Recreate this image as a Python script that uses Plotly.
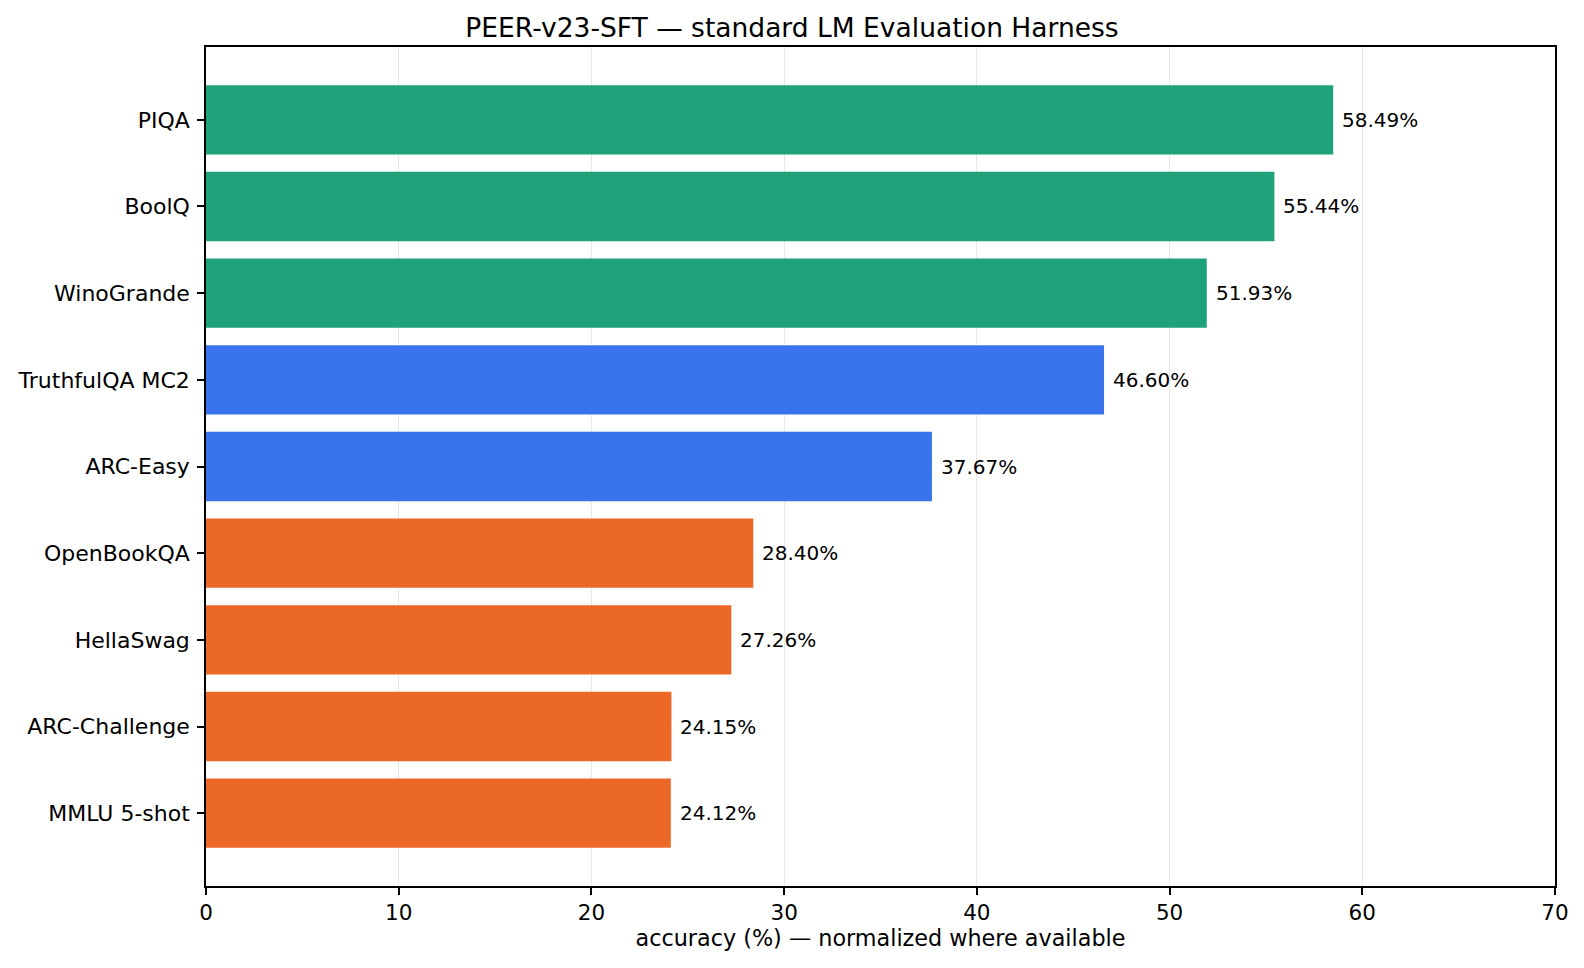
import plotly.graph_objects as go

# benchmark scores, top to bottom as drawn
tasks = ["PIQA", "BoolQ", "WinoGrande", "TruthfulQA MC2", "ARC-Easy",
         "OpenBookQA", "HellaSwag", "ARC-Challenge", "MMLU 5-shot"]
scores = [58.49, 55.44, 51.93, 46.60, 37.67, 28.40, 27.26, 24.15, 24.12]
tiers = ["high", "high", "high", "mid", "mid", "low", "low", "low", "low"]

tier_colors = {"high": "#1fa27a", "mid": "#3a74ec", "low": "#ec6826"}

# plotly draws categories bottom-up, so reverse
y_tasks = tasks[::-1]
x_scores = scores[::-1]
bar_cols = [tier_colors[t] for t in tiers[::-1]]

font = "DejaVu Sans, Verdana, sans-serif"

fig = go.Figure()
fig.add_trace(go.Bar(
    x=x_scores,
    y=y_tasks,
    orientation="h",
    width=0.8,
    marker=dict(color=bar_cols, line=dict(width=0)),
    showlegend=False,
    hoverinfo="x+y",
))

# value labels just past the end of each bar
for task, v in zip(y_tasks, x_scores):
    fig.add_annotation(x=v, y=task, text=f"{v:.2f}%", showarrow=False,
                       xanchor="left", yanchor="middle", xshift=7,
                       font=dict(family=font, size=20, color="black"))

fig.update_layout(
    width=1584, height=968,
    margin=dict(l=206, r=29, t=47, b=82),
    paper_bgcolor="white",
    plot_bgcolor="white",
    font=dict(family=font, size=20, color="black"),
    title=dict(text="PEER-v23-SFT — standard LM Evaluation Harness",
               x=0.5, xanchor="center", y=0.9716, yanchor="middle",
               font=dict(size=26.5, color="black")),
)

fig.update_xaxes(
    range=[0, 70], dtick=10, tick0=0,
    showgrid=True, gridcolor="rgba(0,0,0,0.09)", gridwidth=1,
    showline=True, linecolor="black", linewidth=1.5, mirror=True,
    ticks="outside", ticklen=7, tickwidth=1.5, tickcolor="black",
    tickfont=dict(size=21.5), ticklabelstandoff=-1,
    zeroline=False, automargin=False,
    title=dict(text="accuracy (%) — normalized where available",
               font=dict(size=22.3), standoff=3),
)
fig.update_yaxes(
    range=[-0.84, 8.84],
    showgrid=False,
    showline=True, linecolor="black", linewidth=1.5, mirror=True,
    ticks="outside", ticklen=7, tickwidth=1.5, tickcolor="black",
    tickfont=dict(size=22), ticklabelstandoff=3,
    zeroline=False, automargin=False,
)

# drop the default page margin so the figure sits flush in the window
fig.write_html("out.html", config={"displayModeBar": False},
               post_script="document.body.style.margin='0';")
